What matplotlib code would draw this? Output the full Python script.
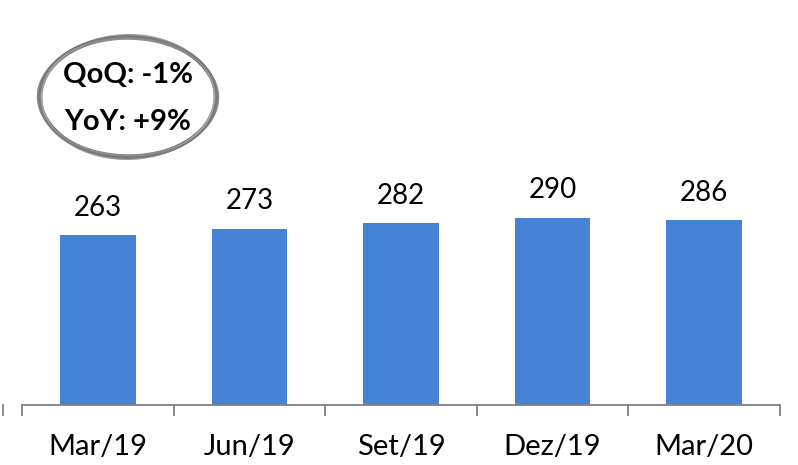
import matplotlib
matplotlib.use("Agg")
import matplotlib.pyplot as plt
from matplotlib.patches import Ellipse
from matplotlib.lines import Line2D

categories = ["Mar/19", "Jun/19", "Set/19", "Dez/19", "Mar/20"]
values = [263, 273, 282, 290, 286]
qoq_text = "QoQ: -1%"
yoy_text = "YoY: +9%"

plt.rcParams['font.family'] = ['Lato', 'DejaVu Sans']

fig = plt.figure(figsize=(7.98, 4.65), dpi=100)
ax = fig.add_axes([22/798, 60/465, (780-22)/798, 405/465])

x = range(len(categories))
ax.bar(x, values, width=0.5, color="#4683D4")
for xi, v in zip(x, values):
    ax.text(xi, v + 22, str(v), ha="center", va="bottom", fontsize=20, color="black")

ax.set_xlim(-0.5, len(categories) - 0.5)
ax.set_ylim(0, 627)
ax.set_yticks([])
for s in ["top", "right", "left"]:
    ax.spines[s].set_visible(False)
ax.spines["bottom"].set_color("#808080")
ax.spines["bottom"].set_linewidth(1.3)
ax.set_xticks([i - 0.5 for i in range(len(categories) + 1)], minor=False)
ax.set_xticklabels([])
ax.tick_params(axis="x", which="major", length=8, color="#808080", width=1.3)
ax.set_xticks(list(x), minor=True)
ax.set_xticklabels(categories, minor=True, fontsize=21)
ax.tick_params(axis="x", which="minor", length=0, pad=21)

# stray tick fragment at left edge
fig.add_artist(Line2D([3/798, 3/798], [(465-415)/465, (465-405)/465], color="#808080", lw=1.3))

# hand-drawn style ellipse
for dw, dh, ang, lw, c in [(0, 0, 0, 3.0, "#6f6f6f"), (4, -3, 2, 1.8, "#8c8c8c"), (-3, 4, -2, 1.5, "#a0a0a0"), (2, 2, 1, 1.2, "#7a7a7a")]:
    e = Ellipse((128/798, (465-97)/465), (176+dw)/798, (120+dh)/465, angle=ang,
                transform=fig.transFigure, fill=False, edgecolor=c, lw=lw)
    fig.add_artist(e)
fig.text(128/798, (465-75)/465, qoq_text, ha="center", va="center", fontsize=21, fontweight="bold")
fig.text(128/798, (465-122)/465, yoy_text, ha="center", va="center", fontsize=21, fontweight="bold")

fig.savefig("out.png", dpi=100)
